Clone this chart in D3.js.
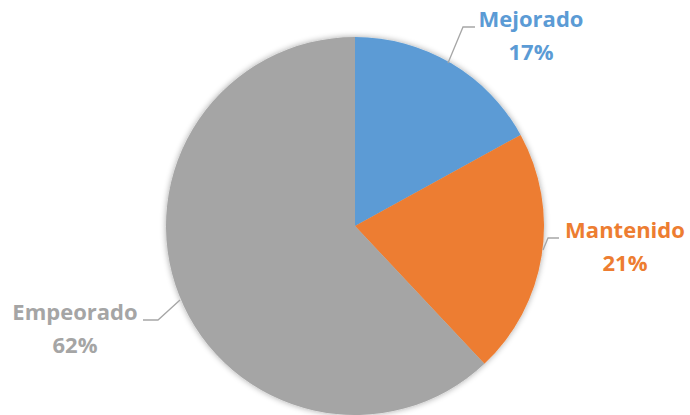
<!DOCTYPE html>
<html lang="es">
<head>
<meta charset="utf-8">
<title>Pie</title>
<script src="https://cdn.jsdelivr.net/npm/d3@7"></script>
<style>
  body { margin: 0; background: #fff; }
  svg { display: block; }
  .lbl { font-family: "Open Sans", sans-serif; font-weight: bold; font-size: 22px; }
</style>
</head>
<body>
<script>
// data
var categories = ["Mejorado", "Mantenido", "Empeorado"];
var values = [17, 21, 62];
var colors = ["#5B9BD5", "#ED7D31", "#A5A5A5"];

var w = 690, h = 415;
var cx = 355, cy = 226, r = 189;

// label placement (text anchor point + leader polyline)
var labelPos = [
  { x: 531, y: 27, line: [[475, 27], [463, 27], [448, 63]] },
  { x: 625, y: 238, line: [[559, 238], [548, 238], [543, 250]] },
  { x: 75, y: 320, line: [[143, 320], [158, 320], [180, 300]] }
];

var svg = d3.select("body").append("svg")
  .attr("width", w)
  .attr("height", h);

var defs = svg.append("defs");
var f = defs.append("filter").attr("id", "shadow")
  .attr("x", "-10%").attr("y", "-10%").attr("width", "120%").attr("height", "120%");
f.append("feGaussianBlur").attr("in", "SourceAlpha").attr("stdDeviation", 3).attr("result", "b");
f.append("feComponentTransfer").attr("in", "b").attr("result", "s")
  .append("feFuncA").attr("type", "linear").attr("slope", 0.35);
var m = f.append("feMerge");
m.append("feMergeNode").attr("in", "s");
m.append("feMergeNode").attr("in", "SourceGraphic");

var pie = d3.pie().sort(null).value(d => d);
var arcs = pie(values);
var arc = d3.arc().innerRadius(0).outerRadius(r);

var g = svg.append("g")
  .attr("transform", "translate(" + cx + "," + cy + ")");

g.append("g").attr("filter", "url(#shadow)")
  .selectAll("path")
  .data(arcs)
  .enter()
  .append("path")
  .attr("d", arc)
  .attr("fill", (d, i) => colors[i]);

// leader lines
svg.selectAll("polyline.leader")
  .data(arcs)
  .enter()
  .append("polyline")
  .attr("class", "leader")
  .attr("fill", "none")
  .attr("stroke", "#A6A6A6")
  .attr("stroke-width", 1.3)
  .attr("points", (d, i) => labelPos[i].line.map(q => q.join(",")).join(" "));

// labels
var lbl = svg.selectAll("text.lbl")
  .data(arcs)
  .enter()
  .append("text")
  .attr("class", "lbl")
  .attr("text-anchor", "middle")
  .attr("fill", (d, i) => colors[i]);

lbl.append("tspan")
  .attr("x", (d, i) => labelPos[i].x)
  .attr("y", (d, i) => labelPos[i].y)
  .text((d, i) => categories[i]);

lbl.append("tspan")
  .attr("x", (d, i) => labelPos[i].x)
  .attr("y", (d, i) => labelPos[i].y + 33)
  .text(d => d.data + "%");
</script>
</body>
</html>
